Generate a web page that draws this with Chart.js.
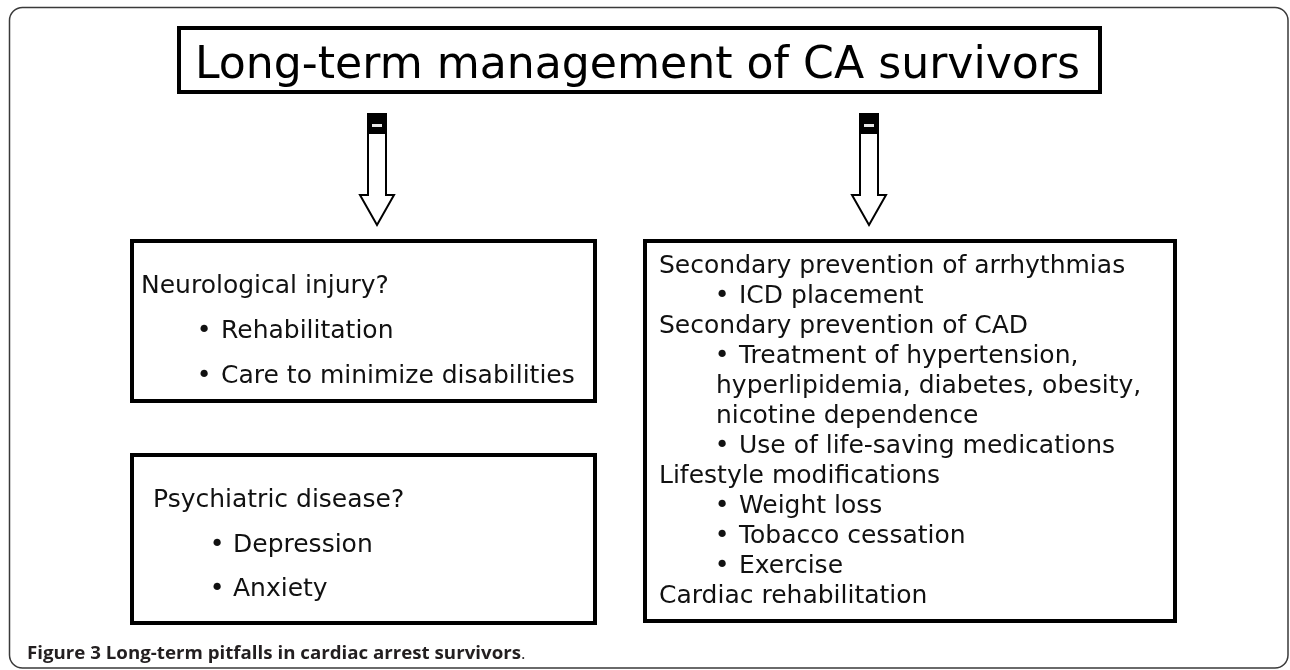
<!DOCTYPE html>
<html lang="en">
<head>
    <meta charset="UTF-8">
    <title>Long-term management of CA survivors</title>
    <script src="https://cdn.jsdelivr.net/npm/chart.js"></script>
    <style>
        html, body { margin: 0; padding: 0; background: #fff; }
        #wrap { width: 1290px; height: 670px; }
    </style>
</head>
<body>
    <div id="wrap"><canvas id="figure" width="1290" height="670"></canvas></div>

    <script>
        // texts of the figure
        const titleText = 'Long-term management of CA survivors';
        const neuroHeading = 'Neurological injury?';
        const neuroItems = ['Rehabilitation', 'Care to minimize disabilities'];
        const psychHeading = 'Psychiatric disease?';
        const psychItems = ['Depression', 'Anxiety'];
        // 0 = heading, 1 = bullet, 2 = continuation of a bullet
        const rightLevels = [0, 1, 0, 1, 2, 2, 1, 0, 1, 1, 1, 0];
        const rightLines = [
            'Secondary prevention of arrhythmias',
            'ICD placement',
            'Secondary prevention of CAD',
            'Treatment of hypertension,',
            'hyperlipidemia, diabetes, obesity,',
            'nicotine dependence',
            'Use of life-saving medications',
            'Lifestyle modifications',
            'Weight loss',
            'Tobacco cessation',
            'Exercise',
            'Cardiac rehabilitation'
        ];
        const captionBold = 'Figure 3 Long-term pitfalls in cardiac arrest survivors';
        const captionTail = '.';

        const FONT = '"DejaVu Sans", Verdana, sans-serif';
        const INK = '#111';

        // draws the whole diagram on top of an empty chart, using its scales
        const diagramPlugin = {
            id: 'diagram',
            afterDraw(chart) {
                const ctx = chart.ctx;
                const X = v => chart.scales.x.getPixelForValue(v);
                const Y = v => chart.scales.y.getPixelForValue(v);

                function box(x0, y0, x1, y1, lw) {
                    ctx.save();
                    ctx.lineWidth = lw;
                    ctx.strokeStyle = '#000';
                    ctx.strokeRect(X(x0) + lw / 2, Y(y0) + lw / 2, X(x1) - X(x0) - lw, Y(y1) - Y(y0) - lw);
                    ctx.restore();
                }

                function text(str, x, y, font, color, width) {
                    ctx.save();
                    ctx.font = font;
                    ctx.fillStyle = color || INK;
                    ctx.textBaseline = 'alphabetic';
                    ctx.textAlign = 'left';
                    const w = ctx.measureText(str).width;
                    if (width) {
                        ctx.translate(X(x), Y(y));
                        ctx.scale(width / w, 1);
                        ctx.fillText(str, 0, 0);
                    } else {
                        ctx.fillText(str, X(x), Y(y));
                    }
                    ctx.restore();
                    return width || w;
                }

                function bullet(cx, y) {
                    ctx.save();
                    ctx.font = '25px ' + FONT;
                    ctx.fillStyle = INK;
                    ctx.textAlign = 'center';
                    ctx.fillText('\u2022', X(cx), Y(y));
                    ctx.restore();
                }

                function arrow(cx) {
                    ctx.save();
                    ctx.fillStyle = '#000';
                    ctx.fillRect(X(cx - 10), Y(113), 20, 20);
                    ctx.fillStyle = '#e8e8e8';
                    ctx.fillRect(X(cx - 5), Y(124), 10, 3);
                    ctx.beginPath();
                    ctx.moveTo(X(cx - 9), Y(133));
                    ctx.lineTo(X(cx - 9), Y(195));
                    ctx.lineTo(X(cx - 17), Y(195));
                    ctx.lineTo(X(cx), Y(225));
                    ctx.lineTo(X(cx + 17), Y(195));
                    ctx.lineTo(X(cx + 9), Y(195));
                    ctx.lineTo(X(cx + 9), Y(133));
                    ctx.closePath();
                    ctx.fillStyle = '#fff';
                    ctx.fill();
                    ctx.lineWidth = 2;
                    ctx.strokeStyle = '#000';
                    ctx.stroke();
                    ctx.restore();
                }

                // outer frame with rounded corners
                ctx.save();
                ctx.strokeStyle = '#3a3a3a';
                ctx.lineWidth = 1.5;
                ctx.beginPath();
                ctx.roundRect(X(9.5), Y(7.5), X(1288) - X(9.5), Y(668) - Y(7.5), 13);
                ctx.stroke();
                ctx.restore();

                // title
                box(177, 26, 1102, 94, 4);
                text(titleText, 195, 78, '44px ' + FONT, '#000', 885);

                arrow(377);
                arrow(869);

                // neurological box
                box(130, 239, 597, 403, 4);
                text(neuroHeading, 141, 293, '25px ' + FONT);
                neuroItems.forEach((t, i) => {
                    bullet(204, 338 + i * 45);
                    text(t, 221, 338 + i * 45, '25px ' + FONT);
                });

                // psychiatric box
                box(130, 453, 597, 625, 4);
                text(psychHeading, 153, 507, '25px ' + FONT);
                psychItems.forEach((t, i) => {
                    bullet(217, 552 + i * 44);
                    text(t, 233, 552 + i * 44, '25px ' + FONT);
                });

                // right box
                box(643, 239, 1177, 623, 4);
                rightLines.forEach((t, i) => {
                    const y = 273 + i * 30;
                    const lvl = rightLevels[i];
                    if (lvl === 0) {
                        text(t, 659, y, '25px ' + FONT);
                    } else if (lvl === 1) {
                        bullet(722, y);
                        text(t, 739, y, '25px ' + FONT);
                    } else {
                        text(t, 716, y, '25px ' + FONT);
                    }
                });

                // caption
                const capFont = '"Open Sans", "Liberation Sans", sans-serif';
                text(captionBold, 27, 659, 'bold 17px ' + capFont, '#231f20', 494);
                text(captionTail, 521, 659, '17px ' + capFont, '#231f20');
            }
        };

        new Chart(document.getElementById('figure'), {
            type: 'scatter',
            data: { datasets: [{ data: [], pointRadius: 0 }] },
            options: {
                responsive: false,
                animation: false,
                events: [],
                layout: { padding: 0 },
                scales: {
                    x: { type: 'linear', min: 0, max: 1290, display: false },
                    y: { type: 'linear', min: 0, max: 670, reverse: true, display: false }
                },
                plugins: {
                    legend: { display: false },
                    tooltip: { enabled: false }
                }
            },
            plugins: [diagramPlugin]
        });
    </script>
</body>
</html>
